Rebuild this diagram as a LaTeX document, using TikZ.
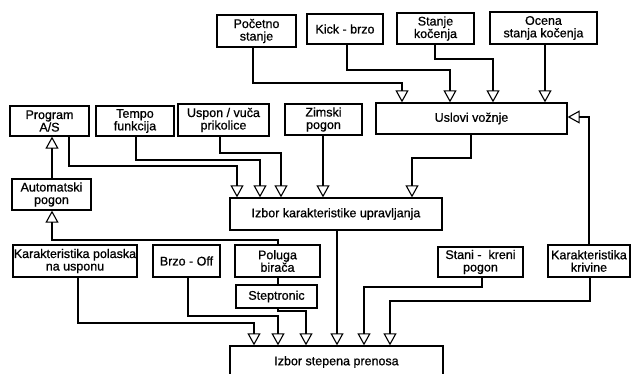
\documentclass[tikz,border=0pt]{standalone}
\usepackage{fontspec}
\setmainfont[FakeBold=0.8,AutoFakeBold=0.8]{Liberation Sans}
\usetikzlibrary{arrows.meta}
\begin{document}
\begin{tikzpicture}[x=1pt,y=-1pt,
 box/.style={draw, line width=1.3pt, inner sep=0pt, align=center, font=\fontsize{12.5}{12.5}\selectfont\bfseries},
 conn/.style={line width=1.1pt},
 arr/.style={conn, -{Triangle[open,length=12pt,width=13pt,line width=1.1pt]}}]
\useasboundingbox (0,0) rectangle (633,374);
\clip (0,0) rectangle (633,374);
\fill[white] (0,0) rectangle (633,374);
% top row
\node[box, minimum width=79, minimum height=32] (pocetno) at (256.5,31) {Početno\\stanje};
\node[box, minimum width=76, minimum height=30] (kick) at (345,29) {Kick - brzo};
\node[box, minimum width=77, minimum height=31] (stanje) at (435.5,28.5) {Stanje\\kočenja};
\node[box, minimum width=107, minimum height=32] (ocena) at (543.5,28) {Ocena\\stanja kočenja};
\node[box, minimum width=191, minimum height=31] (uslovi) at (471.5,118.5) {Uslovi vožnje};
% second row
\node[box, minimum width=79, minimum height=30] (program) at (49.5,121) {Program\\A/S};
\node[box, minimum width=78, minimum height=30] (tempo) at (135,121) {Tempo\\funkcija};
\node[box, minimum width=91, minimum height=32] (uspon) at (223.5,120) {Uspon / vuča\\prikolice};
\node[box, minimum width=77, minimum height=31] (zimski) at (323.5,119.5) {Zimski\\pogon};
\node[box, minimum width=212, minimum height=32] (izbkar) at (336,214) {Izbor karakteristike upravljanja};
\node[box, minimum width=79, minimum height=31] (automatski) at (51.5,194.5) {Automatski\\pogon};
% third row
\node[box, minimum width=124, minimum height=32] (karpol) at (75,261) {Karakteristika polaska\\na usponu};
\node[box, minimum width=67, minimum height=32] (brzo) at (186.5,261) {Brzo - Off};
\node[box, minimum width=85, minimum height=32] (poluga) at (277.5,261) {Poluga\\birača};
\node[box, minimum width=81, minimum height=23] (steptronic) at (276.5,296.5) {Steptronic};
\node[box, minimum width=85, minimum height=30] (stani) at (480.5,262) {Stani -\ \ kreni\\pogon};
\node[box, minimum width=82, minimum height=32] (krivine) at (589,261) {Karakteristika\\krivine};
\node[box, minimum width=213, minimum height=32] (izbst) at (336.5,362) {Izbor stepena prenosa};
% connectors into Uslovi voznje
\draw[arr] (253,0 |- pocetno.south) -- (253,83) -- (402,83) -- (402,0 |- uslovi.north);
\draw[arr] (347,0 |- kick.south) -- (347,70) -- (450,70) -- (450,0 |- uslovi.north);
\draw[arr] (435,0 |- stanje.south) -- (435,59) -- (493,59) -- (493,0 |- uslovi.north);
\draw[arr] (545,0 |- ocena.south) -- (545,0 |- uslovi.north);
\draw[arr] (589,0 |- krivine.north) -- (589,117) -- (uslovi.east |- 0,117);
% connectors into Izbor karakteristike
\draw[arr] (471,0 |- uslovi.south) -- (471,158) -- (412,158) -- (412,0 |- izbkar.north);
\draw[arr] (323,0 |- zimski.south) -- (323,0 |- izbkar.north);
\draw[arr] (69,0 |- program.south) -- (69,166) -- (237,166) -- (237,0 |- izbkar.north);
\draw[arr] (136,0 |- tempo.south) -- (136,160) -- (260,160) -- (260,0 |- izbkar.north);
\draw[arr] (220,0 |- uspon.south) -- (220,153) -- (281,153) -- (281,0 |- izbkar.north);
% automatic drive
\draw[arr] (52,0 |- automatski.north) -- (52,0 |- program.south);
\draw[arr] (278,0 |- poluga.north) -- (278,240) -- (52,240) -- (52,0 |- automatski.south);
\draw[conn] (278,0 |- poluga.south) -- (278,0 |- steptronic.north);
% connectors into Izbor stepena prenosa
\draw[arr] (78,0 |- karpol.south) -- (78,323) -- (254,323) -- (254,0 |- izbst.north);
\draw[arr] (188,0 |- brzo.south) -- (188,316) -- (278,316) -- (278,0 |- izbst.north);
\draw[arr] (278,0 |- steptronic.south) -- (278,311) -- (306,311) -- (306,0 |- izbst.north);
\draw[arr] (337,0 |- izbkar.south) -- (337,0 |- izbst.north);
\draw[arr] (482,0 |- stani.south) -- (482,287) -- (364,287) -- (364,0 |- izbst.north);
\draw[arr] (590,0 |- krivine.south) -- (590,301) -- (390,301) -- (390,0 |- izbst.north);
\end{tikzpicture}
\end{document}
